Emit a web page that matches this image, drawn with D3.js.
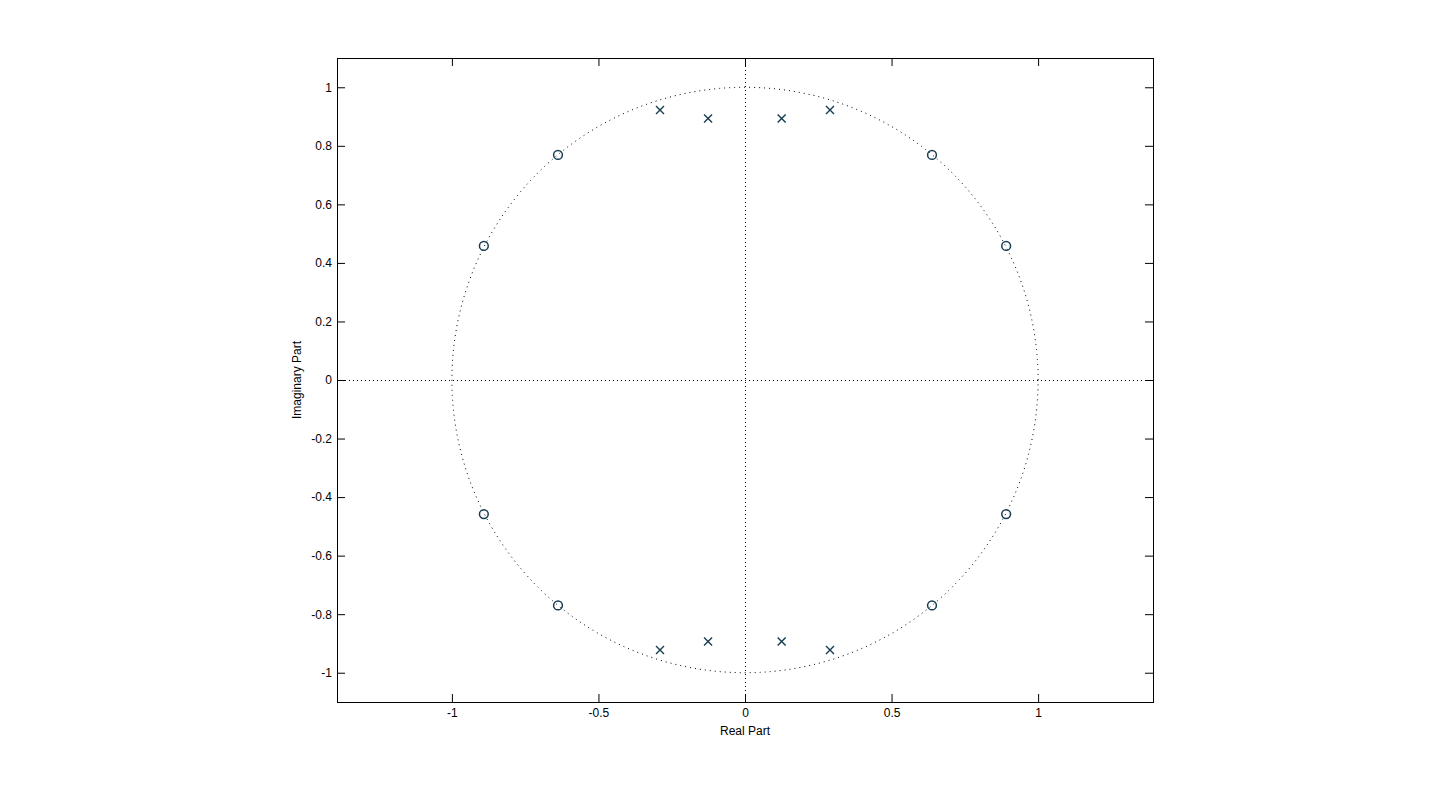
<!DOCTYPE html>
<html>
<head>
<meta charset="utf-8">
<script src="https://cdn.jsdelivr.net/npm/d3@7"></script>
<style>
html,body{margin:0;padding:0;background:#fff;}
svg{display:block;}
text{font-family:"Liberation Sans",Arial,Helvetica,sans-serif;}
</style>
</head>
<body>
<svg id="chart" width="1441" height="790"></svg>
<script>
// Data
const zerosRe = [0.638, 0.891, 0.891, 0.638, -0.638, -0.891, -0.891, -0.638];
const zerosIm = [0.769, 0.458, -0.458, -0.770, 0.769, 0.458, -0.458, -0.770];
const polesRe = [-0.290, -0.126, 0.125, 0.290, -0.290, -0.126, 0.125, 0.290];
const polesIm = [0.922, 0.893, 0.893, 0.922, -0.922, -0.893, -0.893, -0.922];
const xTicks = [-1, -0.5, 0, 0.5, 1];
const yTicks = [-1, -0.8, -0.6, -0.4, -0.2, 0, 0.2, 0.4, 0.6, 0.8, 1];
const xLabel = "Real Part";
const yLabel = "Imaginary Part";

const svg = d3.select("#chart");
const L = 337, R = 1153, T = 58, B = 702;
const x = d3.scaleLinear().domain([-1.392, 1.392]).range([L, R]);
const y = d3.scaleLinear().domain([-1.1, 1.1]).range([B, T]);
const markColor = "#163c50";
const fmt = d => String(+d.toFixed(2));

// unit circle (dotted)
const circ = d3.range(0, 361).map(a => [Math.cos(a * Math.PI / 180), Math.sin(a * Math.PI / 180)]);
svg.append("path")
  .attr("d", d3.line().x(d => x(d[0])).y(d => y(d[1]))(circ))
  .attr("fill", "none").attr("stroke", "#000").attr("stroke-width", 1)
  .attr("stroke-dasharray", "1,4");

// dotted zero axes
svg.append("line").attr("x1", L).attr("x2", R).attr("y1", Math.round(y(0)) + 0.5).attr("y2", Math.round(y(0)) + 0.5)
  .attr("stroke", "#000").attr("stroke-dasharray", "1,3");
svg.append("line").attr("y1", T).attr("y2", B).attr("x1", Math.round(x(0)) + 0.5).attr("x2", Math.round(x(0)) + 0.5)
  .attr("stroke", "#000").attr("stroke-dasharray", "1,3");

// axes with inward ticks on all 4 sides
const tk = 8;
const gB = svg.append("g").attr("transform", `translate(0,${B})`)
  .call(d3.axisBottom(x).tickValues(xTicks).tickSizeInner(-tk).tickSizeOuter(0).tickPadding(6).tickFormat(fmt));
const gT = svg.append("g").attr("transform", `translate(0,${T})`)
  .call(d3.axisTop(x).tickValues(xTicks).tickSizeInner(-tk).tickSizeOuter(0).tickFormat(""));
const gL = svg.append("g").attr("transform", `translate(${L},0)`)
  .call(d3.axisLeft(y).tickValues(yTicks).tickSizeInner(-tk).tickSizeOuter(0).tickPadding(5).tickFormat(fmt));
const gR = svg.append("g").attr("transform", `translate(${R},0)`)
  .call(d3.axisRight(y).tickValues(yTicks).tickSizeInner(-tk).tickSizeOuter(0).tickFormat(""));
[gB, gT, gL, gR].forEach(g => {
  g.select(".domain").remove();
  g.selectAll("line").attr("stroke", "#000");
  g.selectAll("text").attr("fill", "#000").style("font-size", "12px")
    .style("font-family", '"Liberation Sans",Arial,sans-serif');
});
// box
svg.append("rect").attr("x", L + 0.5).attr("y", T + 0.5).attr("width", R - L).attr("height", B - T)
  .attr("fill", "none").attr("stroke", "#000").attr("stroke-width", 1);

// labels
svg.append("text").attr("x", x(0)).attr("y", 735).attr("text-anchor", "middle")
  .style("font-size", "12px").text(xLabel);
svg.append("text").attr("transform", `translate(301,${y(0)}) rotate(-90)`).attr("text-anchor", "middle")
  .style("font-size", "12px").text(yLabel);

// zeros (o)
svg.selectAll(".zero").data(zerosRe.map((r, i) => [r, zerosIm[i]])).enter()
  .append("circle").attr("class", "zero")
  .attr("cx", d => x(d[0])).attr("cy", d => y(d[1])).attr("r", 4.4)
  .attr("fill", "none").attr("stroke", markColor).attr("stroke-width", 1.5);

// poles (x)
const s = 4;
svg.selectAll(".pole").data(polesRe.map((r, i) => [r, polesIm[i]])).enter()
  .append("path").attr("class", "pole")
  .attr("d", d => {
    const cx = x(d[0]), cy = y(d[1]);
    return `M${cx - s},${cy - s}L${cx + s},${cy + s}M${cx - s},${cy + s}L${cx + s},${cy - s}`;
  })
  .attr("stroke", markColor).attr("stroke-width", 1.4).attr("fill", "none");
</script>
</body>
</html>
